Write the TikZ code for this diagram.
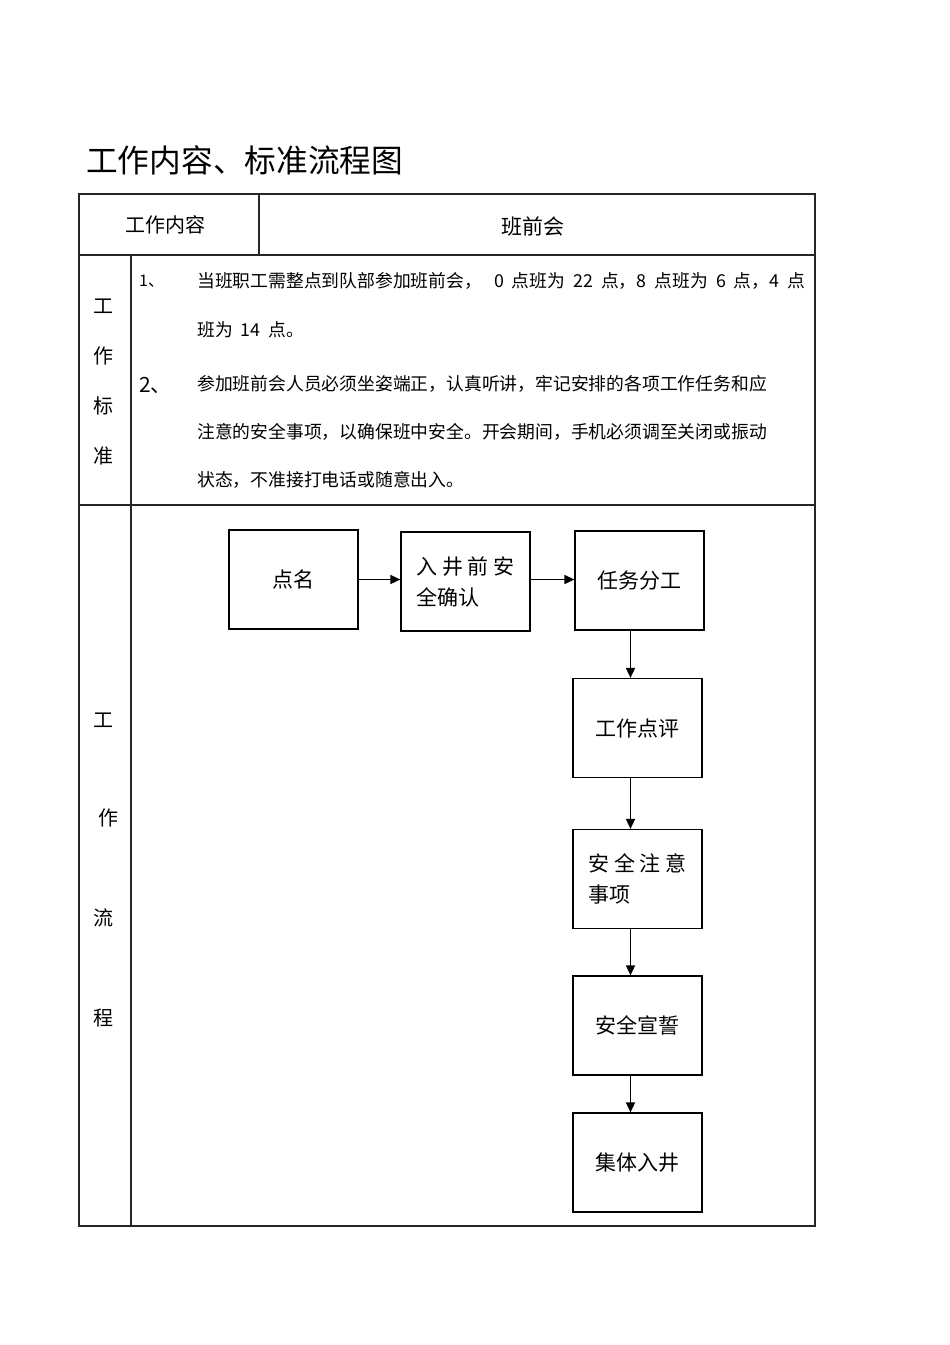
\documentclass[tikz,border=0pt]{standalone}
\usepackage{fontspec}
\setmainfont{Noto Sans CJK SC}
\usetikzlibrary{arrows.meta, positioning}

\begin{document}
\begin{tikzpicture}[
	x=1pt, y=-1pt,
	>={Triangle[length=10pt, width=9pt]},
	% Style for table rules
	rule/.style={line width=1.3pt, draw=black!85},
	% Style for flow steps
	block/.style={rectangle, draw, line width=1.2pt, minimum width=129pt, minimum height=99pt, inner sep=0pt, font=\fontsize{21}{31}\selectfont},
	% Style for arrows between steps
	flow/.style={line width=1.5pt, ->},
	% Style for table labels
	cell/.style={font=\fontsize{20}{24}\selectfont, inner sep=0pt},
	% Style for the text lines of the standard
	body/.style={font=\fontsize{17.8}{20}\selectfont, anchor=west, inner sep=0pt}
	]
	\useasboundingbox (0,0) rectangle (950,1345);
	
	% 1. Title
	\node[anchor=west, inner sep=0pt, font=\fontsize{31.7}{36}\selectfont] (title) at (86,160) {工作内容、标准流程图};
	
	% 2. Table frame
	\draw[rule] (79,194) rectangle (815,1226);
	\draw[rule] (79,255) -- (815,255);
	\draw[rule] (79,505) -- (815,505);
	\draw[rule] (259,194) -- (259,255);
	\draw[rule] (131,255) -- (131,1226);
	
	% 3. Header row
	\node[cell] (head) at (165,225) {工作内容};
	\node[cell, font=\fontsize{21}{24}\selectfont] (meeting) at (533,226) {班前会};
	
	% 4. Work standard
	\node[cell] (std1) at (103,306) {工};
	\node[cell] (std2) at (103,356) {作};
	\node[cell] (std3) at (103,406) {标};
	\node[cell] (std4) at (103,456) {准};
	
	\node[body, font=\fontsize{16}{20}\selectfont] (item1) at (139,281) {1、};
	\node[body] (line1) at (197,281) {\makebox[608pt][l]{当班职工需整点到队部参加班前会，\hfill 0\hspace{8pt}点班为\hspace{8pt}22\hspace{8pt}点，8\hspace{8pt}点班为\hspace{8pt}6\hspace{8pt}点，4\hspace{8pt}点}};
	\node[body] (line2) at (197,330) {班为\hspace{8pt}14\hspace{8pt}点。};
	\node[body, font=\fontsize{21}{24}\selectfont] (item2) at (139,385) {2、};
	\node[body] (line3) at (197,384) {参加班前会人员必须坐姿端正，认真听讲，牢记安排的各项工作任务和应};
	\node[body] (line4) at (197,432) {注意的安全事项，以确保班中安全。开会期间，手机必须调至关闭或振动};
	\node[body] (line5) at (197,480) {状态，不准接打电话或随意出入。};
	
	% 5. Work flow labels
	\node[cell] (proc1) at (103,720) {工};
	\node[cell] (proc2) at (108,818) {作};
	\node[cell] (proc3) at (103,918) {流};
	\node[cell] (proc4) at (103,1018) {程};
	
	% 6. Flow steps
	\node[block] (roll) at (293.5,579.5) {点名};
	\node[block, align=left] (check) at (465.5,581.5) {入 井 前 安\\全确认};
	\node[block] (task) at (639.5,580.5) {任务分工};
	\node[block] (review) at (637.5,728) {工作点评};
	\node[block, align=left] (notice) at (637.5,879) {安 全 注 意\\事项};
	\node[block] (oath) at (637.5,1025.5) {安全宣誓};
	\node[block] (descend) at (637.5,1162.5) {集体入井};
	
	% 7. Arrows
	\draw[flow] (roll) -- (check.west |- roll);
	\draw[flow] (check.east |- roll) -- (task.west |- roll);
	\draw[flow] ([xshift=-7pt]review.north |- task.south) -- ([xshift=-7pt]review.north);
	\draw[flow] ([xshift=-7pt]review.south) -- ([xshift=-7pt]notice.north);
	\draw[flow] ([xshift=-7pt]notice.south) -- ([xshift=-7pt]oath.north);
	\draw[flow] ([xshift=-7pt]oath.south) -- ([xshift=-7pt]descend.north);
	
\end{tikzpicture}
\end{document}
